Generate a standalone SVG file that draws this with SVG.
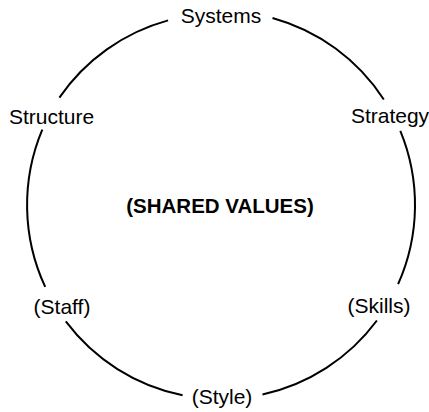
<svg xmlns="http://www.w3.org/2000/svg" width="429" height="412" viewBox="0 0 429 412">
<style>
.lbl{font-family:"Liberation Sans",Arial,Helvetica,sans-serif;font-size:21px;fill:#000;text-anchor:middle}
.ctr{font-family:"Liberation Sans",Arial,Helvetica,sans-serif;font-size:20.5px;font-weight:bold;fill:#000;text-anchor:middle}
.arc{fill:none;stroke:#000;stroke-width:2}
</style>
<rect width="429" height="412" fill="#fff"/>
<g id="connectors">
<path class="arc" d="M272.5,18 A194,194 0 0 1 383.8,99.5"/>
<path class="arc" d="M400.3,130.9 A194,194 0 0 1 398.1,284.2"/>
<path class="arc" d="M376.9,320.5 A194,194 0 0 1 262.5,394.5"/>
<path class="arc" d="M182.6,395.2 A194,194 0 0 1 65.8,321.4"/>
<path class="arc" d="M45.2,286.9 A194,194 0 0 1 42.3,129.7"/>
<path class="arc" d="M59.4,97.6 A194,194 0 0 1 168.1,20.4"/>
</g>
<g id="systems"><text class="lbl" x="221" y="23">Systems</text></g>
<g id="strategy"><text class="lbl" x="390" y="123">Strategy</text></g>
<g id="skills"><text class="lbl" x="379" y="313">(Skills)</text></g>
<g id="style"><text class="lbl" x="222" y="404">(Style)</text></g>
<g id="staff"><text class="lbl" x="62" y="314">(Staff)</text></g>
<g id="structure"><text class="lbl" x="51.5" y="124">Structure</text></g>
<g id="shared-values"><text class="ctr" x="220" y="213">(SHARED VALUES)</text></g>
</svg>
